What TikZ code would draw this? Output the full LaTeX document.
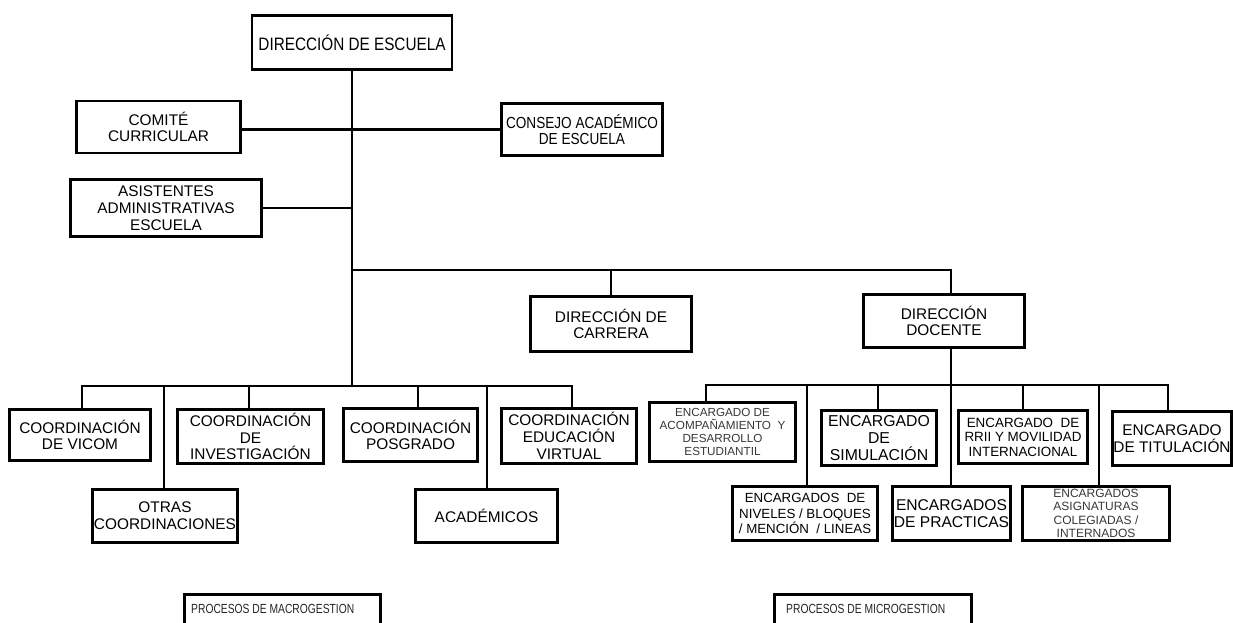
\documentclass[tikz,border=0pt]{standalone}
\usepackage{fontspec}
\setmainfont{Liberation Sans}
\newfontfamily\narrowfont[FakeStretch=0.85]{Liberation Sans}
\newfontfamily\condfont[FakeStretch=0.78]{Liberation Sans}
\begin{document}
\begin{tikzpicture}[x=1pt,y=-1pt,
  box/.style={draw, line width=2.8pt, inner sep=1pt, align=center, text=black},
  link/.style={line width=2.8pt, line join=miter},
  big/.style={font=\fontsize{15.4}{16.7}\selectfont},
  mid/.style={font=\fontsize{13.4}{14.5}\selectfont},
  small/.style={font=\fontsize{11.7}{13.3}\selectfont, text=black!78},
  foot/.style={font=\condfont\fontsize{13.2}{14}\selectfont, text=black!85, anchor=west, inner sep=0pt},
]
\clip (0,0) rectangle (1233,622);
\fill[white] (0,0) rectangle (1233,622);

% upper management
\node[box, font=\narrowfont\fontsize{18}{19}\selectfont, minimum width=200, minimum height=54] (dirEsc) at (352,42.5) {DIRECCIÓN DE ESCUELA};
\node[box, big, minimum width=164, minimum height=52] (comite) at (158.5,127) {COMITÉ\\CURRICULAR};
\node[box, font=\narrowfont\fontsize{16}{16.7}\selectfont, minimum width=161, minimum height=52] (consejo) at (582,129.5) {CONSEJO ACADÉMICO\\DE ESCUELA};
\node[box, big, minimum width=191, minimum height=57] (asist) at (166,208) {ASISTENTES\\ADMINISTRATIVAS\\ESCUELA};
\node[box, big, minimum width=161, minimum height=55] (carrera) at (611,324) {DIRECCIÓN DE\\CARRERA};
\node[box, big, minimum width=161, minimum height=53] (docente) at (944,321) {DIRECCIÓN\\DOCENTE};

% macro-management units
\node[box, big, minimum width=141, minimum height=51] (vicom) at (80,435) {COORDINACIÓN\\DE VICOM};
\node[box, big, minimum width=145, minimum height=53] (otras) at (165,516) {OTRAS\\COORDINACIONES};
\node[box, big, minimum width=146, minimum height=54] (invest) at (250.5,436.5) {COORDINACIÓN\\DE\\INVESTIGACIÓN};
\node[box, big, minimum width=134, minimum height=53] (posgrado) at (410.5,435) {COORDINACIÓN\\POSGRADO};
\node[box, big, minimum width=142, minimum height=53] (academicos) at (486.5,516) {ACADÉMICOS};
\node[box, big, minimum width=135, minimum height=55] (virtual) at (569,436) {COORDINACIÓN\\EDUCACIÓN\\VIRTUAL};

% micro-management units
\node[box, small, minimum width=146, minimum height=59] (acomp) at (722.5,432) {ENCARGADO DE\\ACOMPAÑAMIENTO\ \ Y\\DESARROLLO\\ESTUDIANTIL};
\node[box, font=\fontsize{13.3}{15.5}\selectfont, minimum width=145, minimum height=54] (niveles) at (805,513.5) {ENCARGADOS\ \ DE\\NIVELES\ / BLOQUES\\/ MENCIÓN\ \ / LINEAS};
\node[box, font=\fontsize{15.8}{16.7}\selectfont, minimum width=115, minimum height=55] (simul) at (879,438) {ENCARGADO\\DE\\SIMULACIÓN};
\node[box, font=\fontsize{15.6}{17.5}\selectfont, minimum width=118, minimum height=54] (practicas) at (951.5,513.5) {ENCARGADOS\\DE PRACTICAS};
\node[box, mid, minimum width=129, minimum height=53] (rrii) at (1023,437) {ENCARGADO\ \ DE\\RRII Y MOVILIDAD\\INTERNACIONAL};
\node[box, small, font=\fontsize{12}{13.3}\selectfont, minimum width=147, minimum height=54] (asign) at (1096,513.5) {ENCARGADOS\\ASIGNATURAS\\COLEGIADAS /\\INTERNADOS};
\node[box, big, minimum width=117, minimum height=54] (titul) at (1172,438.5) {ENCARGADO\\DE TITULACIÓN};

% trunk and side branches
\coordinate (jL) at (352,386);
\coordinate (jT) at (352,270);
\draw[link] (dirEsc.south) -- (jL);
\draw[link] (comite.east |- consejo.west) -- (consejo.west);
\draw[link] (asist.east) -- (asist.east -| dirEsc.south);

% branch to the two directions
\coordinate (dDoc) at (951,270);
\draw[link] (jT) -- (dDoc) -- (dDoc |- docente.north);
\draw[link] (carrera.north |- jT) -- (carrera.north);

% left bus
\coordinate (l1) at (82,386);
\coordinate (l2) at (164,386);
\coordinate (l3) at (249,386);
\coordinate (l4) at (418,386);
\coordinate (l5) at (487,386);
\coordinate (l6) at (572,386);
\draw[link] (l1 |- vicom.north) -- (l1) -- (l6) -- (l6 |- virtual.north);
\draw[link] (l2) -- (l2 |- otras.north);
\draw[link] (l3) -- (l3 |- invest.north);
\draw[link] (l4) -- (l4 |- posgrado.north);
\draw[link] (l5) -- (l5 |- academicos.north);

% right bus
\coordinate (r1) at (706,385);
\coordinate (r2) at (807,385);
\coordinate (r3) at (878,385);
\coordinate (r4) at (951,385);
\coordinate (r5) at (1023,385);
\coordinate (r6) at (1099,385);
\coordinate (r7) at (1168,385);
\draw[link] (docente.south -| r4) -- (r4);
\draw[link] (r1 |- acomp.north) -- (r1) -- (r7) -- (r7 |- titul.north);
\draw[link] (r2) -- (r2 |- niveles.north);
\draw[link] (r3) -- (r3 |- simul.north);
\draw[link] (r4) -- (r4 |- practicas.north);
\draw[link] (r5) -- (r5 |- rrii.north);
\draw[link] (r6) -- (r6 |- asign.north);

% process labels
\node[foot] (macro) at (191,608.5) {PROCESOS DE MACROGESTION};
\node[foot] (micro) at (786,608.5) {PROCESOS DE MICROGESTION};
\draw[line width=2.8pt] (184.4,640) |- (380.6,594.4) -- (380.6,640);
\draw[line width=2.8pt] (774.4,640) |- (971.6,594.4) -- (971.6,640);
\end{tikzpicture}
\end{document}
